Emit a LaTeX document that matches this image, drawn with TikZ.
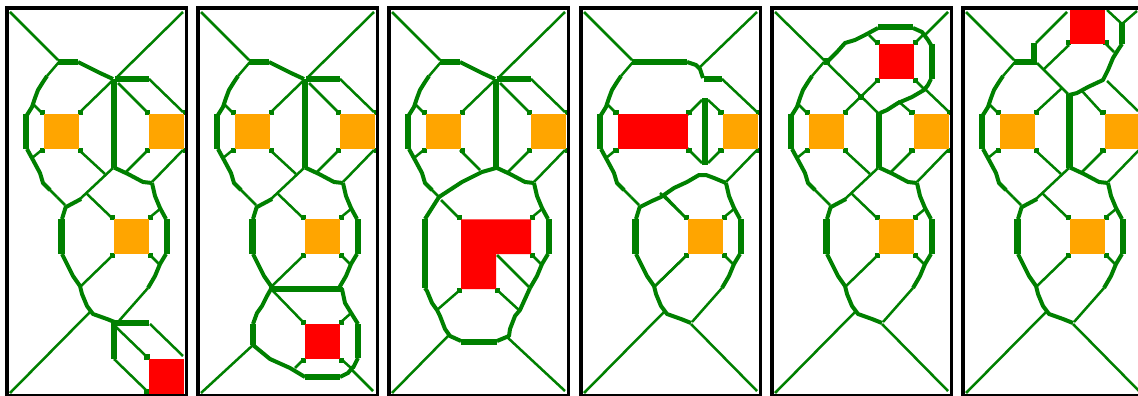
\documentclass[tikz,border=0pt]{standalone}
\definecolor{gr}{RGB}{0,128,0}
\definecolor{og}{RGB}{255,165,0}
\definecolor{rd}{RGB}{255,0,0}
\tikzset{
  thn/.style={draw=gr,line width=2.5pt},
  midl/.style={draw=gr,line width=4pt,line join=round},
  thk/.style={draw=gr,line width=6.3pt},
  panelframe/.style={draw=black,line width=3.6pt},
}
\newcommand\blobat[2]{\fill[gr] (#1-2.6,#2-2.6) rectangle (#1+2.6,#2+2.6);}
% square with four corner blobs: colour, left, top
\newcommand\psq[3]{%
  \blobat{#2-1.5}{#3-1.5}\blobat{#2+36.5}{#3-1.5}\blobat{#2-1.5}{#3+36.5}\blobat{#2+36.5}{#3+36.5}%
  \fill[#1] (#2,#3) rectangle +(35,35);}
\newcommand\pframe{\draw[panelframe] (7,8) rectangle (186.5,395.5);}
% left arc around square A, ending at the lower junction
\newcommand\larc{%
  \draw[thn] (59,62)--(47,76);
  \draw[midl] (47,76)--(43,82)--(38,90)--(35,98)--(32,107)--(27,115);
  \draw[thk] (26,114)--(26,149);
  \draw[midl] (27,149)--(33,160)--(40,173)--(43,183)--(50,190);
  \draw[thn] (48,188)--(57,197);
  \draw[thn] (43,114)--(33,104);
  \draw[thn] (43,149)--(32,158);}
\newcommand\tldiag{\draw[thn] (10,12)--(58,60);}
\newcommand\trdiag{\draw[thn] (183,12)--(116,78);}
\newcommand\topmid{%
  \draw[thk] (58,62)--(78,62);
  \draw[midl] (78,62)--(90,68)--(100,73)--(113,79);}
\newcommand\topright{%
  \draw[thk] (115,79.3)--(149,79.3);
  \draw[thn] (149,79)--(183,112);}
\newcommand\acorner{\draw[thn] (79,113)--(112,81);}
\newcommand\bcorner{\draw[thn] (118,83)--(148,113);}
\newcommand\pvbar{\draw[thk] (114,79)--(114,168);}
% lower right curve below B
\newcommand\rcurve{%
  \draw[midl] (114,167.5)--(128,174)--(143,182)--(152,183);
  \draw[thn] (148,150)--(125,173);}
\newcommand\bbr{\draw[thn] (183,150)--(152,182);}
\newcommand\cright{%
  \draw[midl] (152,183)--(155,196)--(160,208)--(166,219);
  \draw[thk] (167,219)--(167,254);
  \draw[midl] (166,254)--(160,264)--(155,276)--(148,288);
  \draw[thn] (149,218)--(160,209);
  \draw[thn] (150,255)--(160,265);}
\newcommand\cleft{%
  \draw[thn] (57,197)--(65,205);
  \draw[midl] (66,206)--(62,219);
  \draw[thk] (61.5,219)--(61.5,254);
  \draw[midl] (62,254)--(67,264)--(73,276)--(80,286);
  \draw[thn] (112,218)--(86,193);
  \draw[thn] (113,255)--(80,287);}
\newcommand\cupper{%
  \draw[thn] (79,150)--(105,174);
  \draw[thn] (113,168)--(80,199);
  \draw[midl] (81,199)--(66,207);}
\newcommand\ptail{%
  \draw[midl] (80,286)--(82,294)--(87,306)--(93,314)--(107,319)--(117,323);
  \draw[thn] (148,288)--(118,322);
  \draw[thn] (90,312)--(10,393);}
\newcommand\brdiag{\draw[thn] (117,324)--(183,391);}
\begin{document}
\begin{tikzpicture}[x=1pt,y=-1pt]
\useasboundingbox (0,0) rectangle (1138,396);
\clip (0,0) rectangle (1138,396);
\fill[white] (0,0) rectangle (1138,396);

% ---------- panel 1
\begin{scope}[shift={(0,0)}]
\tldiag\trdiag\larc\topmid\topright\acorner\bcorner\pvbar\rcurve\bbr\cright\cleft\cupper\ptail
\draw[thk] (115,323.3)--(149,323.3);
\draw[thk] (114,323)--(114,359);
\draw[thn] (114,359)--(148,392);
\draw[thn] (116,327)--(146,356);
\draw[thn] (150,324)--(183,356);
\psq{og}{44}{114.3}\psq{og}{149}{114.3}\psq{og}{114}{219.3}
\blobat{147}{357}\blobat{147}{392}
\fill[rd] (149,359) rectangle (184,394);
\pframe
\end{scope}

% ---------- panel 2
\begin{scope}[shift={(191,0)}]
\tldiag\trdiag\larc\topmid\topright\acorner\bcorner\pvbar\rcurve\bbr\cright\cleft\cupper
\draw[thk] (81,288.7)--(151,288.7);
\draw[midl] (80,286)--(80,289)--(76,296)--(71,306)--(66,313)--(62,324);
\draw[thk] (62,324)--(62,345);
\draw[thn] (62,345)--(10,393);
\draw[midl] (62,345)--(79,359)--(99,368)--(114,377);
\draw[thk] (114,377)--(149,377);
\draw[midl] (149,377)--(157,373)--(162,367);
\draw[thn] (161,370)--(182,391);
\draw[midl] (148,288)--(151,289)--(154,303)--(162,316)--(167,324);
\draw[thk] (167,324)--(167,358);
\draw[midl] (167,358)--(162,368);
\draw[thn] (114,324)--(80,289);
\draw[thn] (150,322)--(159,314);
\draw[thn] (113,359)--(104,368);
\draw[thn] (150,359)--(160,368);
\psq{og}{44}{114.3}\psq{og}{149}{114.3}\psq{og}{114}{219.3}\psq{rd}{114}{324}
\pframe
\end{scope}

% ---------- panel 3
\begin{scope}[shift={(382,0)}]
\tldiag\trdiag\larc\topmid\topright\acorner\bcorner\pvbar\rcurve\bbr\cright
\draw[thn] (78,150)--(98,170);
\draw[midl] (114,168)--(100,172)--(80,182)--(57,197);
\draw[midl] (57,197)--(50,208)--(43,219);
\draw[thk] (43,219)--(43,288);
\draw[midl] (43,288)--(45,291)--(50,303)--(55,310)--(58,316)--(63,329)--(68,336)--(79,341);
\draw[thk] (79,341.7)--(115,341.7);
\draw[midl] (115,341)--(127,336)--(128,329)--(133,316)--(138,310)--(143,299)--(148,288);
\draw[thn] (78,219)--(59,200);
\draw[thn] (115,255)--(147,287);
\draw[thn] (114,289)--(138,311);
\draw[thn] (78,290)--(55,310);
\draw[thn] (66,336)--(10,393);
\draw[thn] (125,337)--(183,391);
\psq{og}{44}{114.3}\psq{og}{149}{114.3}
\blobat{77.5}{217.5}\blobat{150.5}{217.5}\blobat{150.5}{255.5}\blobat{77.5}{290.5}\blobat{115.5}{290.5}
\fill[rd] (79,219.3)--(149,219.3)--(149,254)--(114,254)--(114,289)--(79,289)--cycle;
\pframe
\end{scope}

% ---------- panel 4
\begin{scope}[shift={(574,0)}]
\tldiag\larc\bbr\cright\cleft\ptail\brdiag
\draw[thn] (183,12)--(126,67);
\draw[thk] (58,62)--(113,62);
\draw[midl] (113,62)--(122,65)--(126,69)--(129,78);
\draw[thk] (130,79.3)--(148,79.3);
\draw[thn] (148,79)--(183,112);
\draw[thk] (130.7,98)--(130.7,165);
\draw[thn] (113,115)--(128,100);
\draw[thn] (134,100)--(148,113);
\draw[thn] (113,148)--(128,163);
\draw[thn] (134,163)--(148,149);
\draw[midl] (152,183)--(140,178)--(132,175)--(125,175)--(113,182)--(100,188)--(87,197)--(78,201)--(66,207);
\draw[thn] (90,195)--(112,218);
\draw[thn] (113,255)--(80,287);
\blobat{42}{112.8}\blobat{42}{150.8}\blobat{115}{112.8}\blobat{115}{150.8}
\fill[rd] (43.7,114.3) rectangle (113.5,149.3);
\psq{og}{114}{219.3}\psq{og}{148.5}{114.3}
\pframe
\end{scope}

% ---------- panel 5
\begin{scope}[shift={(765,0)}]
\draw[thn] (10,12)--(113,113);
\larc\rcurve\bbr\cright\cleft\cupper\ptail\brdiag
\draw[thn] (183,12)--(160,35);
\fill[gr] (58.5,58.5) rectangle (65,65);
\fill[gr] (92.5,93.5) rectangle (99,100);
\draw[midl] (62,62)--(72,52)--(80,43)--(90,40)--(100,35)--(113,28);
\draw[thk] (113,26.7)--(148,26.7);
\draw[midl] (148,28)--(157,32)--(163,40)--(166,45);
\draw[thk] (167,44)--(167,79);
\draw[midl] (166,79)--(163,85)--(159,90)--(147,97)--(133,103)--(122,110)--(115,113);
\draw[thk] (114,112)--(114,168);
\draw[thn] (113,44)--(104,35);
\draw[thn] (149,44)--(159,34);
\draw[thn] (113,80)--(79,113);
\draw[thn] (150,80)--(160,90);
\draw[thn] (148,114)--(133,101);
\draw[thn] (183,111)--(161,90);
\psq{og}{43.7}{114.3}\psq{og}{148.5}{114.3}\psq{og}{114}{219.3}\psq{rd}{113.7}{44.3}
\pframe
\end{scope}

% ---------- panel 6
\begin{scope}[shift={(956,0)}]
\tldiag\larc\bbr\rcurve\cright\cleft\cupper\ptail\brdiag
\draw[thk] (58,62)--(81,62);
\draw[thk] (78.3,43)--(78.3,63);
\draw[thn] (80,43)--(111,12);
\draw[thn] (81,63)--(112,94);
\draw[thn] (113,45)--(87,70);
\draw[thn] (149,43)--(158,52);
\draw[thn] (151,10)--(166,24);
\draw[thn] (181,11)--(166,24);
\draw[thk] (166,23)--(166,44);
\draw[midl] (166,44)--(162,50)--(157,58)--(152,70)--(147,80)--(132,87)--(121,93)--(113,95);
\draw[thk] (113.5,94)--(113.5,168);
\draw[thn] (147,114)--(126,91);
\draw[thn] (182,111)--(151,81);
\draw[thn] (79,113)--(106,88);
\psq{og}{43.7}{114.3}\psq{og}{148.5}{114.3}\psq{og}{114}{219.3}
\blobat{112.5}{42.5}\blobat{150}{42.5}
\fill[rd] (114,10) rectangle (148.5,44.3);
\pframe
\end{scope}
\end{tikzpicture}
\end{document}
